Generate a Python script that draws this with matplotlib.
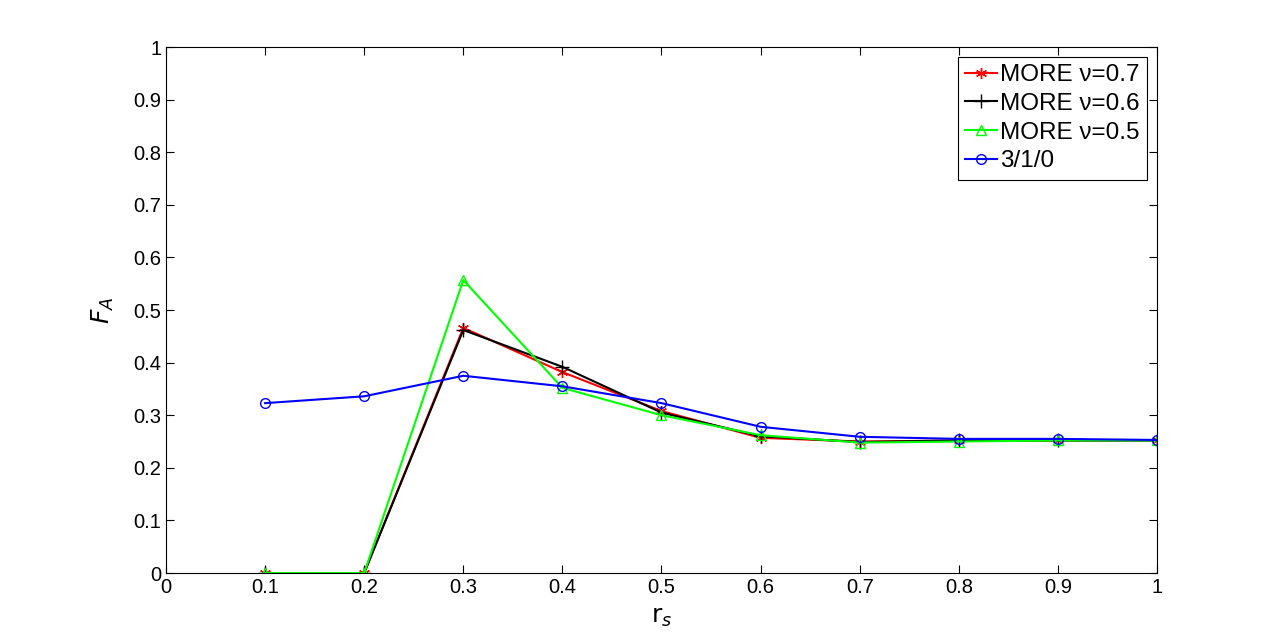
import numpy as np
import matplotlib
matplotlib.use("Agg")
import matplotlib.pyplot as plt

plt.rcParams['font.family'] = ['Liberation Sans', 'DejaVu Sans']
plt.rcParams['mathtext.fontset'] = 'dejavusans'

# data
rs = [0.1, 0.2, 0.3, 0.4, 0.5, 0.6, 0.7, 0.8, 0.9, 1.0]
more_07 = [0.0, 0.0, 0.466, 0.382, 0.308, 0.257, 0.250, 0.252, 0.252, 0.252]
more_06 = [0.0, 0.0, 0.462, 0.392, 0.305, 0.260, 0.249, 0.252, 0.252, 0.252]
more_05 = [0.0, 0.0, 0.557, 0.352, 0.300, 0.262, 0.248, 0.250, 0.252, 0.252]
base_310 = [0.323, 0.336, 0.375, 0.355, 0.323, 0.278, 0.259, 0.255, 0.255, 0.253]

labels = ['MORE \u03bd=0.7', 'MORE \u03bd=0.6', 'MORE \u03bd=0.5', '3/1/0']

fig = plt.figure(figsize=(12.79, 6.44), dpi=100)
ax = fig.add_axes([0.1298, 0.1102, 0.7748, 0.8168])

ax.plot(rs, more_07, color='red', marker=(6, 2, 0), markersize=8, lw=1.5, label=labels[0])
ax.plot(rs, more_06, color='black', marker='+', markersize=10, lw=1.5, label=labels[1])
ax.plot(rs, more_05, color='#00ff00', marker='^', markersize=7, mfc='none', lw=1.5, label=labels[2])
ax.plot(rs, base_310, color='blue', marker='o', markersize=7, mfc='none', lw=1.5, label=labels[3])

ax.set_xlim(0, 1)
ax.set_ylim(0, 1)
ax.set_xticks(np.arange(0, 1.01, 0.1))
ax.set_yticks(np.arange(0, 1.01, 0.1))
ax.set_xticklabels(['0', '0.1', '0.2', '0.3', '0.4', '0.5', '0.6', '0.7', '0.8', '0.9', '1'])
ax.set_yticklabels(['0', '0.1', '0.2', '0.3', '0.4', '0.5', '0.6', '0.7', '0.8', '0.9', '1'])
ax.tick_params(direction='in', top=True, right=True, labelsize=14.5, length=6)
ax.set_xlabel(r'$\mathrm{r}_s$', fontsize=18, labelpad=6)
ax.set_ylabel(r'$F_A$', fontsize=18, labelpad=12)

leg = ax.legend(loc='upper right', fontsize=17.5, fancybox=False, framealpha=1,
                edgecolor='black', handlelength=1.3, handletextpad=0.15,
                borderpad=0.3, labelspacing=0.28, borderaxespad=0.4)
leg.get_frame().set_linewidth(0.8)

fig.savefig('out.png', dpi=100)
